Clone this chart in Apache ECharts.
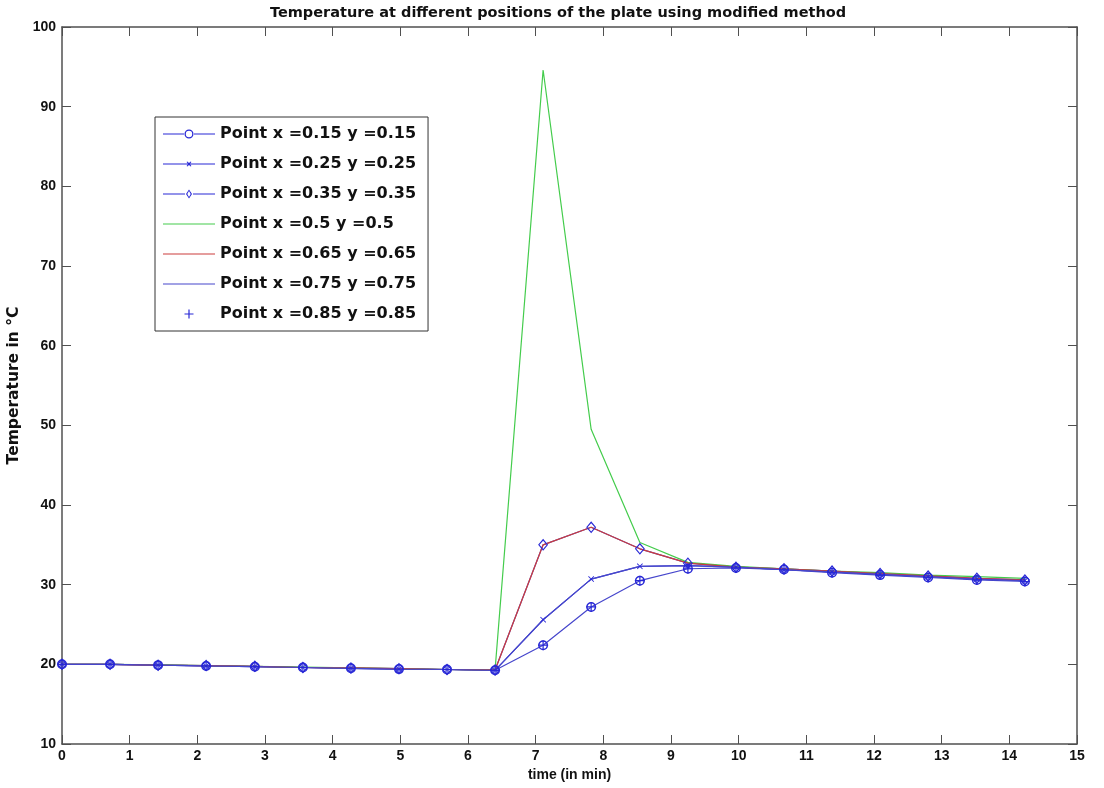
<!DOCTYPE html>
<html>
<head>
<meta charset="utf-8">
<script src="https://cdn.jsdelivr.net/npm/echarts@6/dist/echarts.min.js"></script>
<style>
  html, body { margin: 0; padding: 0; background: #fff; }
  #chart { width: 1104px; height: 788px; }
</style>
</head>
<body>
<div id="chart"></div>
<script>
// time in minutes
const time = [0, 0.71, 1.42, 2.13, 2.85, 3.56, 4.27, 4.98, 5.69, 6.40, 7.11,
  7.82, 8.54, 9.25, 9.96, 10.67, 11.38, 12.09, 12.80, 13.52, 14.23];

const p15 = [20.0, 20.0, 19.9, 19.8, 19.7, 19.6, 19.5, 19.4, 19.35, 19.25, 22.4,
  27.2, 30.5, 32.0, 32.1, 31.9, 31.5, 31.2, 30.9, 30.6, 30.4];
const p25 = [20.0, 20.0, 19.9, 19.8, 19.7, 19.6, 19.5, 19.4, 19.35, 19.25, 25.6,
  30.7, 32.3, 32.4, 32.2, 31.9, 31.6, 31.3, 31.0, 30.7, 30.5];
const p35 = [20.0, 20.0, 19.9, 19.85, 19.75, 19.6, 19.55, 19.45, 19.35, 19.3, 35.0,
  37.2, 34.5, 32.7, 32.2, 32.0, 31.7, 31.4, 31.1, 30.8, 30.6];
const p50 = [20.0, 20.0, 19.95, 19.85, 19.75, 19.65, 19.55, 19.45, 19.35, 19.3, 94.6,
  49.5, 35.3, 32.8, 32.3, 32.0, 31.7, 31.5, 31.2, 31.0, 30.8];
const p65 = [20.0, 20.0, 19.9, 19.85, 19.75, 19.6, 19.55, 19.45, 19.35, 19.3, 35.0,
  37.2, 34.5, 32.7, 32.2, 32.0, 31.7, 31.4, 31.1, 30.8, 30.6];
const p75 = [20.0, 20.0, 19.9, 19.8, 19.7, 19.6, 19.5, 19.4, 19.35, 19.25, 25.6,
  30.7, 32.3, 32.4, 32.2, 31.9, 31.6, 31.3, 31.0, 30.7, 30.5];
const p85 = [20.0, 20.0, 19.9, 19.8, 19.7, 19.6, 19.5, 19.4, 19.35, 19.25, 22.4,
  27.2, 30.5, 32.0, 32.1, 31.9, 31.5, 31.2, 30.9, 30.6, 30.4];

const names = [
  "Point x =0.15 y =0.15",
  "Point x =0.25 y =0.25",
  "Point x =0.35 y =0.35",
  "Point x =0.5 y =0.5",
  "Point x =0.65 y =0.65",
  "Point x =0.75 y =0.75",
  "Point x =0.85 y =0.85",
];

const xTicks = [0, 15, 1];
const yTicks = [10, 100, 10];

const BLUE = "#4646cc";
const MARK = "#2828d6";
const GREEN = "#44cc4c";
const RED = "#cc3c3c";
const FONT = "Liberation Sans";
const WIDE = "DejaVu Sans";
const AXIS = "#505050";

// hollow marker shapes (outer ring clockwise, inner hole counter-clockwise)
const ringPath = "path://M5,0A5,5 0 0,1 5,10A5,5 0 0,1 5,0ZM5,1.5A3.5,3.5 0 0,0 5,8.5A3.5,3.5 0 0,0 5,1.5Z";
const diamondPath = "path://M5,0L10,6L5,12L0,6ZM5,1.9L1.4,6L5,10.1L8.6,6Z";
const crossPath = "path://M0,1L1,0L5,4L9,0L10,1L6,5L10,9L9,10L5,6L1,10L0,9L4,5Z";
const plusPath = "path://M4.4,0H5.6V4.4H10V5.6H5.6V10H4.4V5.6H0V4.4H4.4Z";

// legend icons: line with a small marker in the middle
const legendIcons = [
  "path://M0,4H21V5H0ZM31,4H52V5H31ZM26,0A4.5,4.5 0 0,1 26,9A4.5,4.5 0 0,1 26,0ZM26,1.3A3.2,3.2 0 0,0 26,7.7A3.2,3.2 0 0,0 26,1.3Z",
  "path://M0,4H52V5H0ZM23.6,2.6L24.3,1.9L26,3.6L27.7,1.9L28.4,2.6L26.7,4.5L28.4,6.4L27.7,7.1L26,5.4L24.3,7.1L23.6,6.4L25.3,4.5Z",
  "path://M0,4H22V5H0ZM30,4H52V5H30ZM26,0L29,4.5L26,9L23,4.5ZM26,1.6L24.3,4.5L26,7.4L27.7,4.5Z",
  "path://M0,4H52V5H0Z",
  "path://M0,4H52V5H0Z",
  "path://M0,4H52V5H0Z",
  "path://M25.4,0H26.6V3.9H30.5V5.1H26.6V9H25.4V5.1H21.5V3.9H25.4Z",
];

const pairs = (ys) => time.map((t, i) => [t, ys[i]]);

function lineSeries(name, ys, color, symbol, size) {
  return {
    name: name,
    type: "line",
    data: pairs(ys),
    symbol: symbol,
    symbolSize: size,
    symbolKeepAspect: true,
    showSymbol: symbol !== "none",
    animation: false,
    lineStyle: { color: color, width: 1.2 },
    itemStyle: { color: symbol === "none" ? color : MARK },
    emphasis: { disabled: true },
  };
}

const chart = echarts.init(document.getElementById("chart"));

const plainAxis = {
  axisLabel: { show: false },
  axisLine: { show: true, onZero: false, lineStyle: { color: AXIS, width: 1.5 } },
  axisTick: { show: true, inside: true, length: 9, lineStyle: { color: AXIS } },
  splitLine: { show: false },
};

chart.setOption({
  backgroundColor: "#fff",
  animation: false,
  title: {
    text: "Temperature at different positions of the plate using modified method",
    left: 553,
    textAlign: "center",
    top: 1,
    textStyle: { fontFamily: WIDE, fontSize: 14.5, fontWeight: "bold", color: "#111" },
  },
  grid: { left: 62, right: 27, top: 27, bottom: 44, outerBoundsMode: "none" },
  legend: {
    orient: "vertical",
    left: 155,
    top: 117,
    padding: [8, 12, 8, 8],
    itemGap: 12,
    itemWidth: 52,
    itemHeight: 9,
    symbolKeepAspect: true,
    borderColor: "#333",
    borderWidth: 1,
    backgroundColor: "#fff",
    data: names.map((n, i) => ({ name: n, icon: legendIcons[i] })),
    textStyle: { fontFamily: WIDE, fontSize: 16, fontWeight: "bold", color: "#111", lineHeight: 18 },
  },
  xAxis: [
    {
      type: "value",
      min: xTicks[0],
      max: xTicks[1],
      interval: xTicks[2],
      name: "time (in min)",
      nameLocation: "middle",
      nameGap: 23,
      nameTextStyle: { fontFamily: FONT, fontSize: 14, fontWeight: "bold", color: "#111" },
      axisLabel: { fontFamily: FONT, fontSize: 14, fontWeight: "bold", color: "#111", margin: 5 },
      axisLine: { show: true, onZero: false, lineStyle: { color: AXIS, width: 1.5 } },
      axisTick: { show: true, inside: true, length: 9, lineStyle: { color: AXIS } },
      splitLine: { show: false },
    },
    Object.assign({ type: "value", position: "top", min: xTicks[0], max: xTicks[1], interval: xTicks[2] }, plainAxis),
  ],
  yAxis: [
    {
      type: "value",
      min: yTicks[0],
      max: yTicks[1],
      interval: yTicks[2],
      name: "Temperature in °C",
      nameLocation: "middle",
      nameGap: 40,
      nameTextStyle: { fontFamily: WIDE, fontSize: 15.5, fontWeight: "bold", color: "#111" },
      axisLabel: { fontFamily: FONT, fontSize: 14, fontWeight: "bold", color: "#111", margin: 6 },
      axisLine: { show: true, onZero: false, lineStyle: { color: AXIS, width: 1.5 } },
      axisTick: { show: true, inside: true, length: 9, lineStyle: { color: AXIS } },
      splitLine: { show: false },
    },
    Object.assign({ type: "value", position: "right", min: yTicks[0], max: yTicks[1], interval: yTicks[2] }, plainAxis),
  ],
  series: [
    lineSeries(names[0], p15, BLUE, ringPath, 10),
    lineSeries(names[1], p25, BLUE, crossPath, 6),
    lineSeries(names[2], p35, BLUE, diamondPath, 12),
    lineSeries(names[3], p50, GREEN, "none", 0),
    lineSeries(names[4], p65, RED, "none", 0),
    lineSeries(names[5], p75, BLUE, "none", 0),
    {
      name: names[6],
      type: "scatter",
      z: 5,
      data: pairs(p85),
      symbol: plusPath,
      symbolSize: 10,
      itemStyle: { color: MARK, opacity: 1 },
      emphasis: { disabled: true },
      animation: false,
    },
  ],
});

window.addEventListener("resize", () => chart.resize());
</script>
</body>
</html>
